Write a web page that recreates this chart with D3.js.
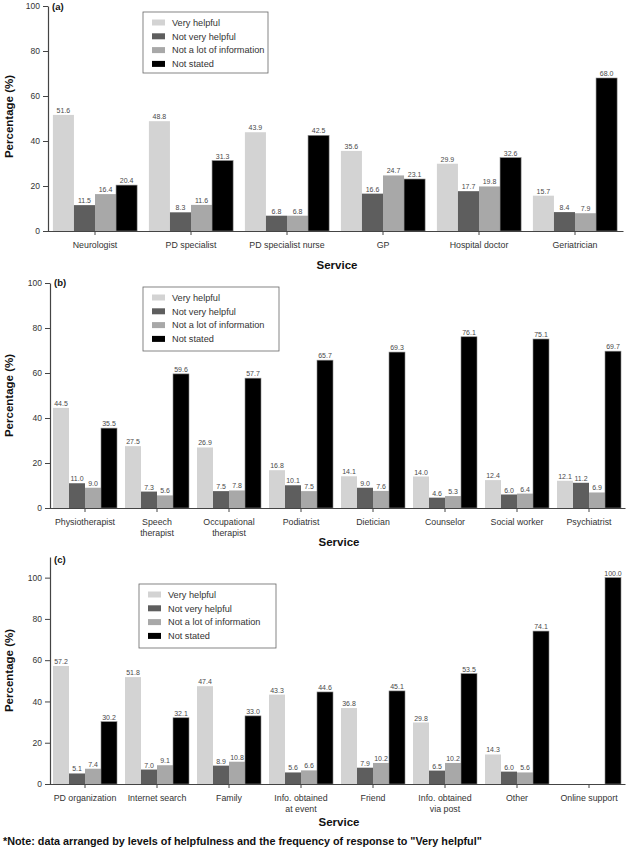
<!DOCTYPE html>
<html>
<head>
<meta charset="utf-8">
<script src="https://cdn.jsdelivr.net/npm/d3@7/dist/d3.min.js"></script>
<style>
  body { margin: 0; background: #fff; }
  svg { display: block; font-family: "Liberation Sans", Arial, sans-serif; }
</style>
</head>
<body>
<svg id="chart" width="627" height="849"></svg>
<script>
// ---- Data ----
const seriesNames = ["Very helpful", "Not very helpful", "Not a lot of information", "Not stated"];

const categoriesA = ["Neurologist", "PD specialist", "PD specialist nurse", "GP", "Hospital doctor", "Geriatrician"];
const veryHelpfulA = [51.6, 48.8, 43.9, 35.6, 29.9, 15.7];
const notVeryHelpfulA = [11.5, 8.3, 6.8, 16.6, 17.7, 8.4];
const notLotInfoA = [16.4, 11.6, 6.8, 24.7, 19.8, 7.9];
const notStatedA = [20.4, 31.3, 42.5, 23.1, 32.6, 68.0];

const categoriesB = ["Physiotherapist", "Speech\ntherapist", "Occupational\ntherapist", "Podiatrist", "Dietician", "Counselor", "Social worker", "Psychiatrist"];
const veryHelpfulB = [44.5, 27.5, 26.9, 16.8, 14.1, 14.0, 12.4, 12.1];
const notVeryHelpfulB = [11.0, 7.3, 7.5, 10.1, 9.0, 4.6, 6.0, 11.2];
const notLotInfoB = [9.0, 5.6, 7.8, 7.5, 7.6, 5.3, 6.4, 6.9];
const notStatedB = [35.5, 59.6, 57.7, 65.7, 69.3, 76.1, 75.1, 69.7];

const categoriesC = ["PD organization", "Internet search", "Family", "Info. obtained\nat event", "Friend", "Info. obtained\nvia post", "Other", "Online support"];
const veryHelpfulC = [57.2, 51.8, 47.4, 43.3, 36.8, 29.8, 14.3, 0];
const notVeryHelpfulC = [5.1, 7.0, 8.9, 5.6, 7.9, 6.5, 6.0, 0];
const notLotInfoC = [7.4, 9.1, 10.8, 6.6, 10.2, 10.2, 5.6, 0];
const notStatedC = [30.2, 32.1, 33.0, 44.6, 45.1, 53.5, 74.1, 100.0];

const yTicksAB = [0, 20, 40, 60, 80, 100];
const yTicksC = [0, 20, 40, 60, 80, 100];
const panelLabels = ["(a)", "(b)", "(c)"];
const xTitle = "Service";
const yTitle = "Percentage (%)";
const noteText = '*Note: data arranged by levels of helpfulness and the frequency of response to "Very helpful"';

const colors = ["#d3d3d3", "#5e5e5e", "#a8a8a8", "#000000"];

const svg = d3.select("#chart");

function drawPanel(opt) {
  const g = svg.append("g");
  const x = d3.scaleBand().domain(d3.range(opt.cats.length)).range([opt.x0, opt.x1]).paddingInner(0).paddingOuter(0);
  const inner = d3.scaleBand().domain(d3.range(4)).range([0, x.bandwidth()]).paddingOuter(opt.outerPad).paddingInner(0);
  const y = d3.scaleLinear().domain([0, opt.yMax]).range([opt.yBottom, opt.yTop]);

  // bars
  opt.series.forEach((vals, si) => {
    g.selectAll(null).data(vals.map((v, i) => ({v, i}))).enter()
      .filter(d => d.v > 0)
      .append("rect")
      .attr("x", d => x(d.i) + inner(si))
      .attr("width", inner.bandwidth())
      .attr("y", d => y(d.v))
      .attr("height", d => y(0) - y(d.v))
      .attr("fill", colors[si])
      .attr("stroke", si === 3 ? "#8a8a8a" : "none")
      .attr("stroke-width", 0.6);
    g.selectAll(null).data(vals.map((v, i) => ({v, i}))).enter()
      .filter(d => d.v > 0)
      .append("text")
      .attr("x", d => x(d.i) + inner(si) + inner.bandwidth() / 2)
      .attr("y", d => y(d.v) - 2)
      .attr("text-anchor", "middle")
      .attr("font-size", 7)
      .attr("fill", "#4a4a4a")
      .text(d => d.v.toFixed(1));
  });

  // y axis
  const yAxis = d3.axisLeft(y).tickValues(opt.yTicks).tickSize(5).tickSizeOuter(0).tickPadding(3);
  const ya = g.append("g").attr("transform", `translate(${opt.x0 + 1},0)`).call(yAxis);
  ya.select(".domain").attr("stroke", "#444").attr("stroke-width", 1.2);
  ya.selectAll(".tick line").attr("stroke", "#444").attr("stroke-width", 1);
  ya.selectAll(".tick text").attr("font-size", 8.5).attr("fill", "#333").attr("font-family", "Liberation Sans, Arial, sans-serif");

  // x axis
  const xAxis = d3.axisBottom(x).tickSize(4).tickSizeOuter(0).tickFormat("");
  const xa = g.append("g").attr("transform", `translate(0,${opt.yBottom})`).call(xAxis);
  xa.select(".domain").attr("stroke", "#444").attr("stroke-width", 1.2);
  xa.selectAll(".tick line").attr("stroke", "#444");

  // category labels
  opt.cats.forEach((c, i) => {
    const t = g.append("text")
      .attr("x", x(i) + x.bandwidth() / 2)
      .attr("y", opt.yBottom + 17)
      .attr("text-anchor", "middle")
      .attr("font-size", 8.8)
      .attr("fill", "#333");
    c.split("\n").forEach((line, li) => {
      t.append("tspan").attr("x", x(i) + x.bandwidth() / 2).attr("dy", li === 0 ? 0 : 10.5).text(line);
    });
  });

  // x title
  g.append("text").attr("x", opt.titleX).attr("y", opt.xTitleY)
    .attr("text-anchor", "middle").attr("font-size", 11.5).attr("font-weight", "bold").attr("fill", "#111")
    .text(xTitle);

  // y title
  g.append("text")
    .attr("transform", `translate(13,${(opt.yBottom + opt.yTop) / 2 + opt.yTitleShift}) rotate(-90)`)
    .attr("text-anchor", "middle").attr("font-size", 11.5).attr("font-weight", "bold").attr("fill", "#111")
    .text(yTitle);

  // panel label
  g.append("text").attr("x", opt.x0 + 5).attr("y", opt.labelY)
    .attr("font-size", 9.5).attr("font-weight", "bold").attr("fill", "#111").text(opt.label);

  // legend
  const lg = g.append("g").attr("transform", `translate(${opt.leg.x},${opt.leg.y})`);
  lg.append("rect").attr("width", opt.leg.w).attr("height", opt.leg.h)
    .attr("fill", "#fff").attr("stroke", "#666").attr("stroke-width", 0.8);
  seriesNames.forEach((s, si) => {
    const ry = 10.5 + si * 13.8;
    lg.append("rect").attr("x", 9).attr("y", ry - 3).attr("width", 13).attr("height", 6).attr("fill", colors[si]);
    lg.append("text").attr("x", 29).attr("y", ry + 3.3).attr("font-size", 9.2).attr("fill", "#333").text(s);
  });
}

drawPanel({
  cats: categoriesA, series: [veryHelpfulA, notVeryHelpfulA, notLotInfoA, notStatedA],
  x0: 47, x1: 623, outerPad: 0.28, yTop: 6, yBottom: 231, yMax: 100, yTicks: yTicksAB,
  titleX: 337, xTitleY: 269, yTitleShift: -2, label: panelLabels[0], labelY: 10,
  leg: {x: 143, y: 12, w: 125, h: 61}
});

drawPanel({
  cats: categoriesB, series: [veryHelpfulB, notVeryHelpfulB, notLotInfoB, notStatedB],
  x0: 49, x1: 625, outerPad: 0.25, yTop: 283, yBottom: 508, yMax: 100, yTicks: yTicksAB,
  titleX: 339, xTitleY: 546, yTitleShift: 0, label: panelLabels[1], labelY: 286,
  leg: {x: 143, y: 287, w: 136, h: 64}
});

drawPanel({
  cats: categoriesC, series: [veryHelpfulC, notVeryHelpfulC, notLotInfoC, notStatedC],
  x0: 49, x1: 625, outerPad: 0.25, yTop: 557, yBottom: 784, yMax: 110, yTicks: yTicksC,
  titleX: 339, xTitleY: 826, yTitleShift: 0, label: panelLabels[2], labelY: 563,
  leg: {x: 139, y: 584, w: 137, h: 64}
});

svg.append("text").attr("x", 3).attr("y", 845)
  .attr("font-size", 10.8).attr("font-weight", "bold").attr("fill", "#111")
  .text(noteText);
</script>
</body>
</html>
